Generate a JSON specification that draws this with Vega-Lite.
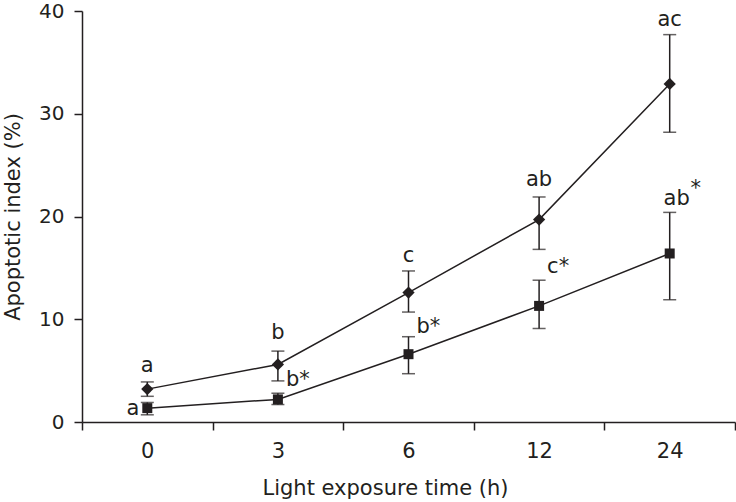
{
  "$schema": "https://vega.github.io/schema/vega-lite/v6.json",
  "autosize": "none",
  "width": 653,
  "height": 411,
  "padding": {"left": 82, "top": 11, "right": 1, "bottom": 80},
  "config": {
    "view": {"stroke": null},
    "font": "DejaVu Sans",
    "axis": {
      "domainColor": "#231f20",
      "domainWidth": 1.5,
      "tickColor": "#231f20",
      "tickWidth": 1.5,
      "labelColor": "#231f20",
      "titleColor": "#231f20",
      "labelFont": "DejaVu Sans",
      "titleFont": "DejaVu Sans",
      "labelFontSize": 21,
      "titleFontSize": 21,
      "titleFontWeight": "normal",
      "grid": false
    }
  },
  "datasets": {
    "series": [
      {"pos": 0, "time": "0", "group": "A", "mean": 3.2, "lo": 2.5, "hi": 3.9},
      {"pos": 1, "time": "3", "group": "A", "mean": 5.6, "lo": 4.0, "hi": 6.9},
      {"pos": 2, "time": "6", "group": "A", "mean": 12.6, "lo": 10.7, "hi": 14.7},
      {"pos": 3, "time": "12", "group": "A", "mean": 19.7, "lo": 16.8, "hi": 21.9},
      {"pos": 4, "time": "24", "group": "A", "mean": 32.9, "lo": 28.2, "hi": 37.7},
      {"pos": 0, "time": "0", "group": "B", "mean": 1.35, "lo": 0.7, "hi": 1.9},
      {"pos": 1, "time": "3", "group": "B", "mean": 2.2, "lo": 1.7, "hi": 2.8},
      {"pos": 2, "time": "6", "group": "B", "mean": 6.6, "lo": 4.7, "hi": 8.3},
      {"pos": 3, "time": "12", "group": "B", "mean": 11.3, "lo": 9.1, "hi": 13.8},
      {"pos": 4, "time": "24", "group": "B", "mean": 16.4, "lo": 11.9, "hi": 20.4}
    ],
    "labelsAbove": [
      {"pos": 0, "y": 4.85, "label": "a"},
      {"pos": 1, "y": 8.06, "label": "b"},
      {"pos": 2, "y": 15.6, "label": "c"},
      {"pos": 3, "y": 23.0, "label": "ab"},
      {"pos": 4, "y": 38.5, "label": "ac"}
    ],
    "labelsRight": [
      {"pos": 1, "y": 3.5, "label": "b*"},
      {"pos": 2, "y": 8.7, "label": "b*"},
      {"pos": 3, "y": 14.5, "label": "c*"}
    ],
    "labelsLeft": [
      {"pos": 0, "y": 0.68, "label": "a"}
    ],
    "labelsShifted": [
      {"pos": 4, "y": 21.1, "label": "ab"}
    ],
    "labelsSup": [
      {"pos": 4, "y": 22.1, "label": "*"}
    ]
  },
  "encoding": {
    "x": {
      "field": "pos",
      "type": "quantitative",
      "scale": {"domain": [-0.5, 4.5], "nice": false, "zero": false},
      "axis": {
        "values": [-0.5, 0, 0.5, 1, 1.5, 2, 2.5, 3, 3.5, 4, 4.5],
        "labelExpr": "datum.value % 1 === 0 ? ['0','3','6','12','24'][datum.value] : ''",
        "tickOpacity": {"condition": {"test": "datum.value % 1 !== 0", "value": 1}, "value": 0},
        "tickSize": 8,
        "labelPadding": 10,
        "labelOverlap": false,
        "labelFlush": false,
        "title": "Light exposure time (h)",
        "titlePadding": 16,
        "titleX": 303
      }
    },
    "y": {
      "field": "mean",
      "type": "quantitative",
      "scale": {"domain": [0, 40], "nice": false},
      "axis": {
        "values": [0, 10, 20, 30, 40],
        "tickSize": 8,
        "labelPadding": 10,
        "labelFontSize": 20,
        "title": "Apoptotic index (%)",
        "titlePadding": 15
      }
    }
  },
  "layer": [
    {
      "data": {"name": "series"},
      "mark": {"type": "line", "color": "#231f20", "strokeWidth": 1.5},
      "encoding": {"detail": {"field": "group"}}
    },
    {
      "data": {"name": "series"},
      "mark": {"type": "rule", "color": "#231f20", "strokeWidth": 1.5},
      "encoding": {"y": {"field": "lo", "type": "quantitative"}, "y2": {"field": "hi"}}
    },
    {
      "data": {"name": "series"},
      "mark": {"type": "tick", "orient": "horizontal", "color": "#231f20", "size": 13, "thickness": 1.5},
      "encoding": {"y": {"field": "lo", "type": "quantitative"}}
    },
    {
      "data": {"name": "series"},
      "mark": {"type": "tick", "orient": "horizontal", "color": "#231f20", "size": 13, "thickness": 1.5},
      "encoding": {"y": {"field": "hi", "type": "quantitative"}}
    },
    {
      "data": {"name": "series"},
      "mark": {"type": "point", "filled": true, "opacity": 1, "color": "#231f20"},
      "encoding": {
        "shape": {"field": "group", "type": "nominal", "scale": {"domain": ["A", "B"], "range": ["diamond", "square"]}, "legend": null},
        "size": {"field": "group", "type": "nominal", "scale": {"domain": ["A", "B"], "range": [150, 100]}, "legend": null}
      }
    },
    {
      "data": {"name": "labelsAbove"},
      "mark": {"type": "text", "fontSize": 21, "color": "#231f20", "align": "center", "baseline": "alphabetic"},
      "encoding": {"y": {"field": "y", "type": "quantitative"}, "text": {"field": "label"}}
    },
    {
      "data": {"name": "labelsRight"},
      "mark": {"type": "text", "fontSize": 21, "color": "#231f20", "align": "left", "baseline": "alphabetic", "dx": 8},
      "encoding": {"y": {"field": "y", "type": "quantitative"}, "text": {"field": "label"}}
    },
    {
      "data": {"name": "labelsLeft"},
      "mark": {"type": "text", "fontSize": 21, "color": "#231f20", "align": "right", "baseline": "alphabetic", "dx": -8},
      "encoding": {"y": {"field": "y", "type": "quantitative"}, "text": {"field": "label"}}
    },
    {
      "data": {"name": "labelsShifted"},
      "mark": {"type": "text", "fontSize": 21, "color": "#231f20", "align": "center", "baseline": "alphabetic", "dx": 7},
      "encoding": {"y": {"field": "y", "type": "quantitative"}, "text": {"field": "label"}}
    },
    {
      "data": {"name": "labelsSup"},
      "mark": {"type": "text", "fontSize": 21, "color": "#231f20", "align": "center", "baseline": "alphabetic", "dx": 26},
      "encoding": {"y": {"field": "y", "type": "quantitative"}, "text": {"field": "label"}}
    }
  ]
}
